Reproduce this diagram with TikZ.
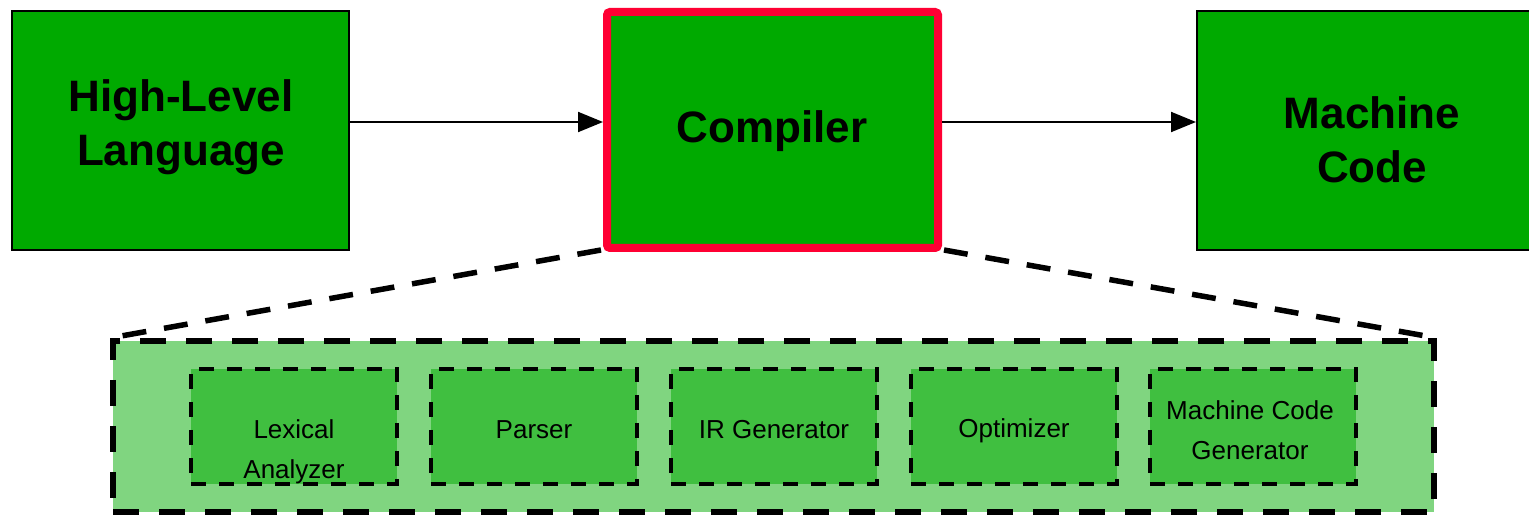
\documentclass[tikz,border=0pt]{standalone}
\usepackage{fontspec}
\setmainfont{Liberation Sans}
\usetikzlibrary{arrows.meta}

\definecolor{boxgreen}{RGB}{0,170,0}
\definecolor{hotred}{RGB}{255,0,51}
\definecolor{palegreen}{RGB}{128,213,128}
\definecolor{stagegreen}{RGB}{64,191,64}

\tikzset{
  bigbox/.style={draw=black, line width=2pt, fill=boxgreen, inner sep=0pt},
  hotbox/.style={draw=hotred, line width=8pt, fill=boxgreen, rounded corners=3pt, inner sep=0pt},
  bigtext/.style={font=\fontsize{44}{54}\selectfont\bfseries, align=center, inner sep=0pt},
  flow/.style={draw=black, line width=2pt, -{Triangle[length=25pt,width=20pt]}},
  zoomline/.style={draw=black, line width=5.5pt, dash pattern=on 24pt off 18pt},
  stagebox/.style={draw=black, line width=4pt, dash pattern=on 15pt off 13pt, fill=stagegreen,
    minimum width=206pt, minimum height=115pt, inner sep=0pt},
  stagetext/.style={font=\fontsize{26}{40}\selectfont, align=center, inner sep=0pt},
}

\begin{document}
\begin{tikzpicture}[x=1pt, y=-1pt]
  \useasboundingbox (0,0) rectangle (1529,518);

  % top row: source -> compiler -> target
  \node[bigbox, minimum width=337pt, minimum height=239pt] (hll) at (180.5,130.5) {};
  \node[bigtext] (hlltext) at (181,127) {High-Level\\Language};

  \node[hotbox, minimum width=331pt, minimum height=236pt] (comp) at (772.5,130) {};
  \node[bigtext] (comptext) at (772,131) {Compiler};

  \node[bigbox, minimum width=350pt, minimum height=239pt] (mc) at (1372,130.5) {};
  \node[bigtext] (mctext) at (1372,140) {Machine\\Code};

  \draw[flow] ([yshift=8.5pt]hll.east) -- ([yshift=8pt]comp.west);
  \draw[flow] ([yshift=8pt]comp.east) -- ([yshift=8.5pt]mc.west);

  % expanded view of the compiler
  \node[draw=black, line width=6pt, dash pattern=on 26pt off 20pt, fill=palegreen,
        minimum width=1321pt, minimum height=171pt, inner sep=0pt] (inside) at (773.5,426.5) {};

  \draw[zoomline] ([xshift=-2pt,yshift=2pt]comp.south west) -- (inside.north west);
  \draw[zoomline] ([xshift=2pt,yshift=2pt]comp.south east) -- (inside.north east);

  % compiler stages
  \node[stagebox] (lex) at (294,426.5) {};
  \node[stagebox] (parse) at (534,426.5) {};
  \node[stagebox] (irgen) at (774,426.5) {};
  \node[stagebox] (opt) at (1014,426.5) {};
  \node[stagebox] (cgen) at (1253,426.5) {};

  \node[stagetext] (lextext) at (294,452) {Lexical\\Analyzer};
  \node[stagetext] (parsetext) at (534,430) {Parser};
  \node[stagetext] (irgentext) at (774,430) {IR Generator};
  \node[stagetext] (opttext) at (1014,431) {Optimizer};
  \node[stagetext] (cgentext) at (1250,430) {Machine Code\\Generator};
\end{tikzpicture}
\end{document}
